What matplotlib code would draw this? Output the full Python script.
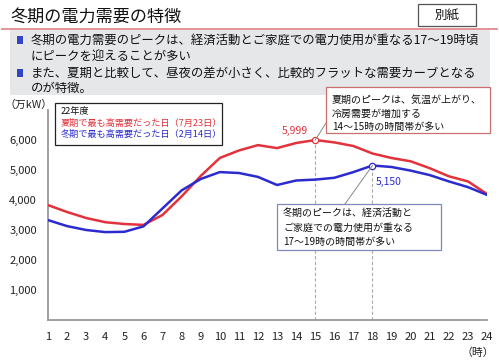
import matplotlib
matplotlib.use("Agg")
import matplotlib.pyplot as plt
from matplotlib.patches import Rectangle
from matplotlib.lines import Line2D

plt.rcParams['font.family'] = ['Noto Sans CJK JP', 'DejaVu Sans']

hours = list(range(1, 25))
summer = [3830, 3600, 3400, 3260, 3200, 3170, 3500, 4120, 4800, 5400, 5650, 5830,
          5730, 5900, 5999, 5920, 5800, 5550, 5400, 5290, 5060, 4790, 4620, 4200]
winter = [3330, 3130, 3000, 2930, 2940, 3120, 3720, 4320, 4700, 4930, 4900, 4770,
          4500, 4650, 4680, 4740, 4930, 5150, 5100, 4980, 4830, 4620, 4430, 4170]
yticks = [1000, 2000, 3000, 4000, 5000, 6000]
ytick_labels = ["1,000", "2,000", "3,000", "4,000", "5,000", "6,000"]

W, H = 499, 361
fig = plt.figure(figsize=(W / 100, H / 100), dpi=100)


def fx(x):
    return x / W


def fy(y):
    return 1 - y / H


def rect(x0, y0, x1, y1, **kw):
    fig.patches.append(Rectangle((fx(x0), fy(y1)), (x1 - x0) / W, (y1 - y0) / H,
                                 transform=fig.transFigure, **kw))


def txt(x, y, s, **kw):
    fig.text(fx(x), fy(y), s, **kw)


RED = "#e2323c"
BLUE = "#2b2bd0"

# Header
txt(10, 17, "冬期の電力需要の特徴", fontsize=12.3, va="center", ha="left", color="#111111")
fig.add_artist(Line2D([fx(2), fx(497)], [fy(28.5), fy(28.5)], color="#e08080", lw=1.2,
                      transform=fig.transFigure))
rect(418, 4, 476, 26, facecolor="white", edgecolor="#555555", lw=0.9)
txt(447, 15.5, "別紙", fontsize=9, ha="center", va="center", color="#111111")

# Gray bullet box
rect(10, 30, 490, 95, facecolor="#e6e7e9", edgecolor="none")
for yb in (40, 73):
    rect(17, yb - 3.5, 23, yb + 3.5, facecolor="#3344c4", edgecolor="none")
lines = [(40, "冬期の電力需要のピークは、経済活動とご家庭での電力使用が重なる17～19時頃"),
         (56, "にピークを迎えることが多い"),
         (73, "また、夏期と比較して、昼夜の差が小さく、比較的フラットな需要カーブとなる"),
         (88, "のが特徴。")]
for yy, s in lines:
    txt(31, yy, s, fontsize=8.9, va="center", ha="left", color="#111111")

# Axes
ax = fig.add_axes([fx(48), fy(320), (487 - 48) / W, (320 - 110) / H])
ax.set_xlim(1, 24)
ax.set_ylim(0, 7000)
for sp in ("top", "right"):
    ax.spines[sp].set_visible(False)
for sp in ("left", "bottom"):
    ax.spines[sp].set_color("#999999")
    ax.spines[sp].set_linewidth(1.3)
ax.set_xticks(hours)
ax.set_xticklabels([str(h) for h in hours], fontsize=8, color="#222222")
ax.set_yticks(yticks)
ax.set_yticklabels(ytick_labels, fontsize=8, color="#222222")
ax.tick_params(axis="y", length=0, pad=8)
ax.tick_params(axis="x", length=0, pad=9)
ax.patch.set_alpha(0)

ax.plot(hours, summer, color=RED, lw=1.8, solid_joinstyle="round", zorder=3)
ax.plot(hours, winter, color=BLUE, lw=1.8, solid_joinstyle="round", zorder=3)

i_s = summer.index(max(summer))
i_w = winter.index(max(winter))
for i, ser, col in ((i_s, summer, RED), (i_w, winter, BLUE)):
    ax.plot([hours[i], hours[i]], [0, ser[i]], color="#aaaaaa", lw=0.8, ls=(0, (3, 2)), zorder=1)
    ax.plot(hours[i], ser[i], marker="o", ms=4.5, mfc="white", mec=col, mew=0.9, zorder=5)

ax.annotate(f"{summer[i_s]:,}", (hours[i_s], summer[i_s]), xytext=(-5, 3),
            textcoords="offset points", ha="right", va="bottom", fontsize=7.5, color=RED)
ax.annotate(f"{winter[i_w]:,}", (hours[i_w], winter[i_w]), xytext=(2, -8),
            textcoords="offset points", ha="left", va="top", fontsize=7.5, color=BLUE)

# Pointer lines to callouts
x_s, y_s = ax.transData.transform((hours[i_s], summer[i_s]))
x_w, y_w = ax.transData.transform((hours[i_w], winter[i_w]))
fig.add_artist(Line2D([x_s / fig.dpi / fig.get_figwidth(), fx(326)],
                      [y_s / fig.dpi / fig.get_figheight(), fy(123)],
                      color="#888888", lw=0.7, transform=fig.transFigure))
fig.add_artist(Line2D([x_w / fig.dpi / fig.get_figwidth(), fx(345)],
                      [y_w / fig.dpi / fig.get_figheight(), fy(204)],
                      color="#888888", lw=0.7, transform=fig.transFigure))

# Summer callout
rect(326, 87, 490, 133, facecolor="white", edgecolor="#c87070", lw=0.9, zorder=6)
for yy, s in ((100, "夏期のピークは、気温が上がり、"), (114, "冷房需要が増加する"),
              (127, "14～15時の時間帯が多い")):
    txt(332, yy, s, fontsize=7.2, va="center", ha="left", color="#111111", zorder=7)

# Winter callout
rect(277, 204, 441, 250, facecolor="white", edgecolor="#8088b8", lw=0.9, zorder=6)
for yy, s in ((213, "冬期のピークは、経済活動と"), (228, "ご家庭での電力使用が重なる"),
              (242, "17～19時の時間帯が多い")):
    txt(283, yy, s, fontsize=7.2, va="center", ha="left", color="#111111", zorder=7)

# Legend box
rect(55, 103, 222, 145, facecolor="white", edgecolor="#222222", lw=0.9, zorder=6)
for yy, s, c in ((112, "22年度", "#111111"), (123, "夏期で最も高需要だった日（7月23日）", RED),
                 (134, "冬期で最も高需要だった日（2月14日）", BLUE)):
    txt(61, yy, s, fontsize=6.6, va="center", ha="left", color=c, zorder=7)

# Units
txt(4, 105, "（万kW）", fontsize=7.8, va="center", ha="left", color="#222222")
txt(478, 353, "（時）", fontsize=7.8, va="center", ha="center", color="#222222")

fig.savefig("out.png", dpi=100)
